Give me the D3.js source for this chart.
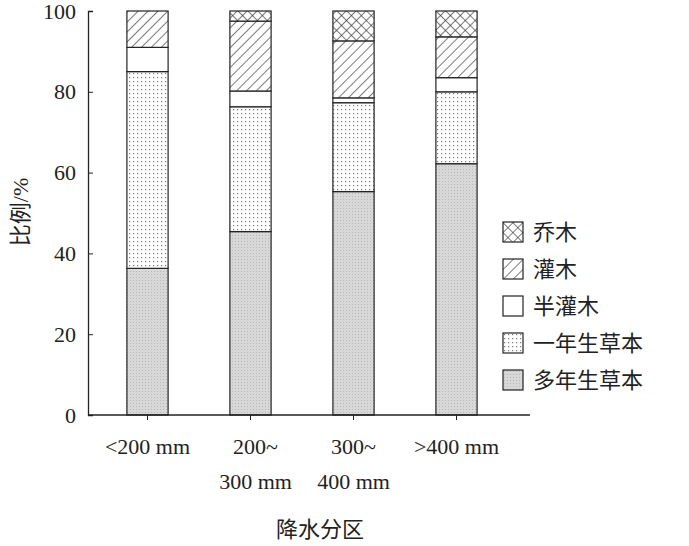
<!DOCTYPE html>
<html>
<head>
<meta charset="utf-8">
<script src="https://cdn.jsdelivr.net/npm/d3@7/dist/d3.min.js"></script>
<style>
  body { margin: 0; background: #fff; }
  text { font-family: "Liberation Serif", "Noto Sans CJK SC", serif; fill: #222; }
</style>
</head>
<body>
<svg width="689" height="546"></svg>
<script>
  const categories = [["<200 mm"], ["200~", "300 mm"], ["300~", "400 mm"], [">400 mm"]];
  const seriesNames = ["多年生草本", "一年生草本", "半灌木", "灌木", "乔木"];
  const perennial = [36.3, 45.4, 55.3, 62.2];
  const annual = [48.7, 30.9, 22.0, 17.8];
  const subshrub = [6.0, 3.9, 1.2, 3.5];
  const shrub = [9.0, 17.3, 14.1, 10.1];
  const tree = [0, 2.5, 7.4, 6.4];
  const yTicks = [0, 20, 40, 60, 80, 100];

  const svg = d3.select('svg');
  const defs = svg.append('defs');

  // patterns
  const pDots = defs.append('pattern').attr('id', 'dots').attr('patternUnits', 'userSpaceOnUse')
    .attr('width', 4).attr('height', 4);
  pDots.append('rect').attr('width', 4).attr('height', 4).attr('fill', '#fff');
  pDots.append('rect').attr('x', 1).attr('y', 1).attr('width', 1.2).attr('height', 1.2).attr('fill', '#777');

  const pGray = defs.append('pattern').attr('id', 'gray').attr('patternUnits', 'userSpaceOnUse')
    .attr('width', 3).attr('height', 3);
  pGray.append('rect').attr('width', 3).attr('height', 3).attr('fill', '#d8d8d8');
  pGray.append('rect').attr('x', 1).attr('y', 1).attr('width', 1).attr('height', 1).attr('fill', '#b8b8b8');

  const pHatch = defs.append('pattern').attr('id', 'hatch').attr('patternUnits', 'userSpaceOnUse')
    .attr('width', 7).attr('height', 7).attr('patternTransform', 'rotate(45)');
  pHatch.append('rect').attr('width', 7).attr('height', 7).attr('fill', '#fff');
  pHatch.append('line').attr('x1', 0).attr('y1', 0).attr('x2', 0).attr('y2', 7)
    .attr('stroke', '#333').attr('stroke-width', 1.3);

  const pCross = defs.append('pattern').attr('id', 'cross').attr('patternUnits', 'userSpaceOnUse')
    .attr('width', 7).attr('height', 7).attr('patternTransform', 'rotate(45)');
  pCross.append('rect').attr('width', 7).attr('height', 7).attr('fill', '#fff');
  pCross.append('line').attr('x1', 0).attr('y1', 0).attr('x2', 0).attr('y2', 7).attr('stroke', '#333').attr('stroke-width', 1.3);
  pCross.append('line').attr('x1', 0).attr('y1', 0).attr('x2', 7).attr('y2', 0).attr('stroke', '#333').attr('stroke-width', 1.3);

  const fills = ['url(#gray)', 'url(#dots)', '#fff', 'url(#hatch)', 'url(#cross)'];

  const x = d3.scaleBand().domain(d3.range(4)).range([96, 508]).paddingInner(0.6).paddingOuter(0.3);
  const y = d3.scaleLinear().domain([0, 100]).range([415, 11]);

  const rows = d3.range(4).map(i => ({ i, 0: perennial[i], 1: annual[i], 2: subshrub[i], 3: shrub[i], 4: tree[i] }));
  const stacked = d3.stack().keys([0, 1, 2, 3, 4])(rows);

  stacked.forEach((layer, k) => {
    svg.append('g').selectAll('rect').data(layer).enter().append('rect')
      .attr('x', d => x(d.data.i))
      .attr('width', x.bandwidth())
      .attr('y', d => y(d[1]))
      .attr('height', d => y(d[0]) - y(d[1]))
      .attr('fill', fills[k])
      .attr('stroke', '#222').attr('stroke-width', 1.2);
  });

  // y axis
  const yAxis = svg.append('g').attr('transform', 'translate(88,0)')
    .call(d3.axisLeft(y).tickValues(yTicks).tickSize(-5).tickPadding(12));
  yAxis.selectAll('text').attr('font-size', 22).style('font-family', '"Liberation Serif", serif');
  yAxis.select('.domain').attr('stroke', '#222').attr('stroke-width', 1.3);
  yAxis.selectAll('line').attr('stroke', '#222');

  // x axis line
  svg.append('line').attr('x1', 88).attr('x2', 530).attr('y1', 415).attr('y2', 415)
    .attr('stroke', '#222').attr('stroke-width', 1.3);
  svg.append('g').selectAll('line').data(d3.range(4)).enter().append('line')
    .attr('x1', d => x(d) + x.bandwidth() / 2).attr('x2', d => x(d) + x.bandwidth() / 2)
    .attr('y1', 415).attr('y2', 420).attr('stroke', '#222');

  const xl = svg.append('g').selectAll('text').data(categories).enter().append('text')
    .attr('x', (d, i) => x(i) + x.bandwidth() / 2 + (i === 1 ? 5 : 0))
    .attr('y', 454).attr('text-anchor', 'middle').attr('font-size', 22);
  xl.selectAll('tspan').data(d => d).enter().append('tspan')
    .attr('x', function () { return this.parentNode.getAttribute('x'); })
    .attr('dy', (d, j) => j ? 35 : 0).text(d => d);

  svg.append('text').attr('transform', 'translate(28,212) rotate(-90)')
    .attr('text-anchor', 'middle').attr('font-size', 22).text('比例/%');
  svg.append('text').attr('x', 320).attr('y', 537).attr('text-anchor', 'middle')
    .attr('font-size', 22).text('降水分区');

  // legend (top to bottom: tree .. perennial)
  const order = [4, 3, 2, 1, 0];
  const lg = svg.append('g').selectAll('g').data(order).enter().append('g')
    .attr('transform', (d, j) => `translate(503,${222 + j * 37})`);
  lg.append('rect').attr('width', 20).attr('height', 20).attr('fill', d => fills[d])
    .attr('stroke', '#222').attr('stroke-width', 1.2);
  lg.append('text').attr('x', 30).attr('y', 18).attr('font-size', 22).text(d => seriesNames[d]);
</script>
</body>
</html>
